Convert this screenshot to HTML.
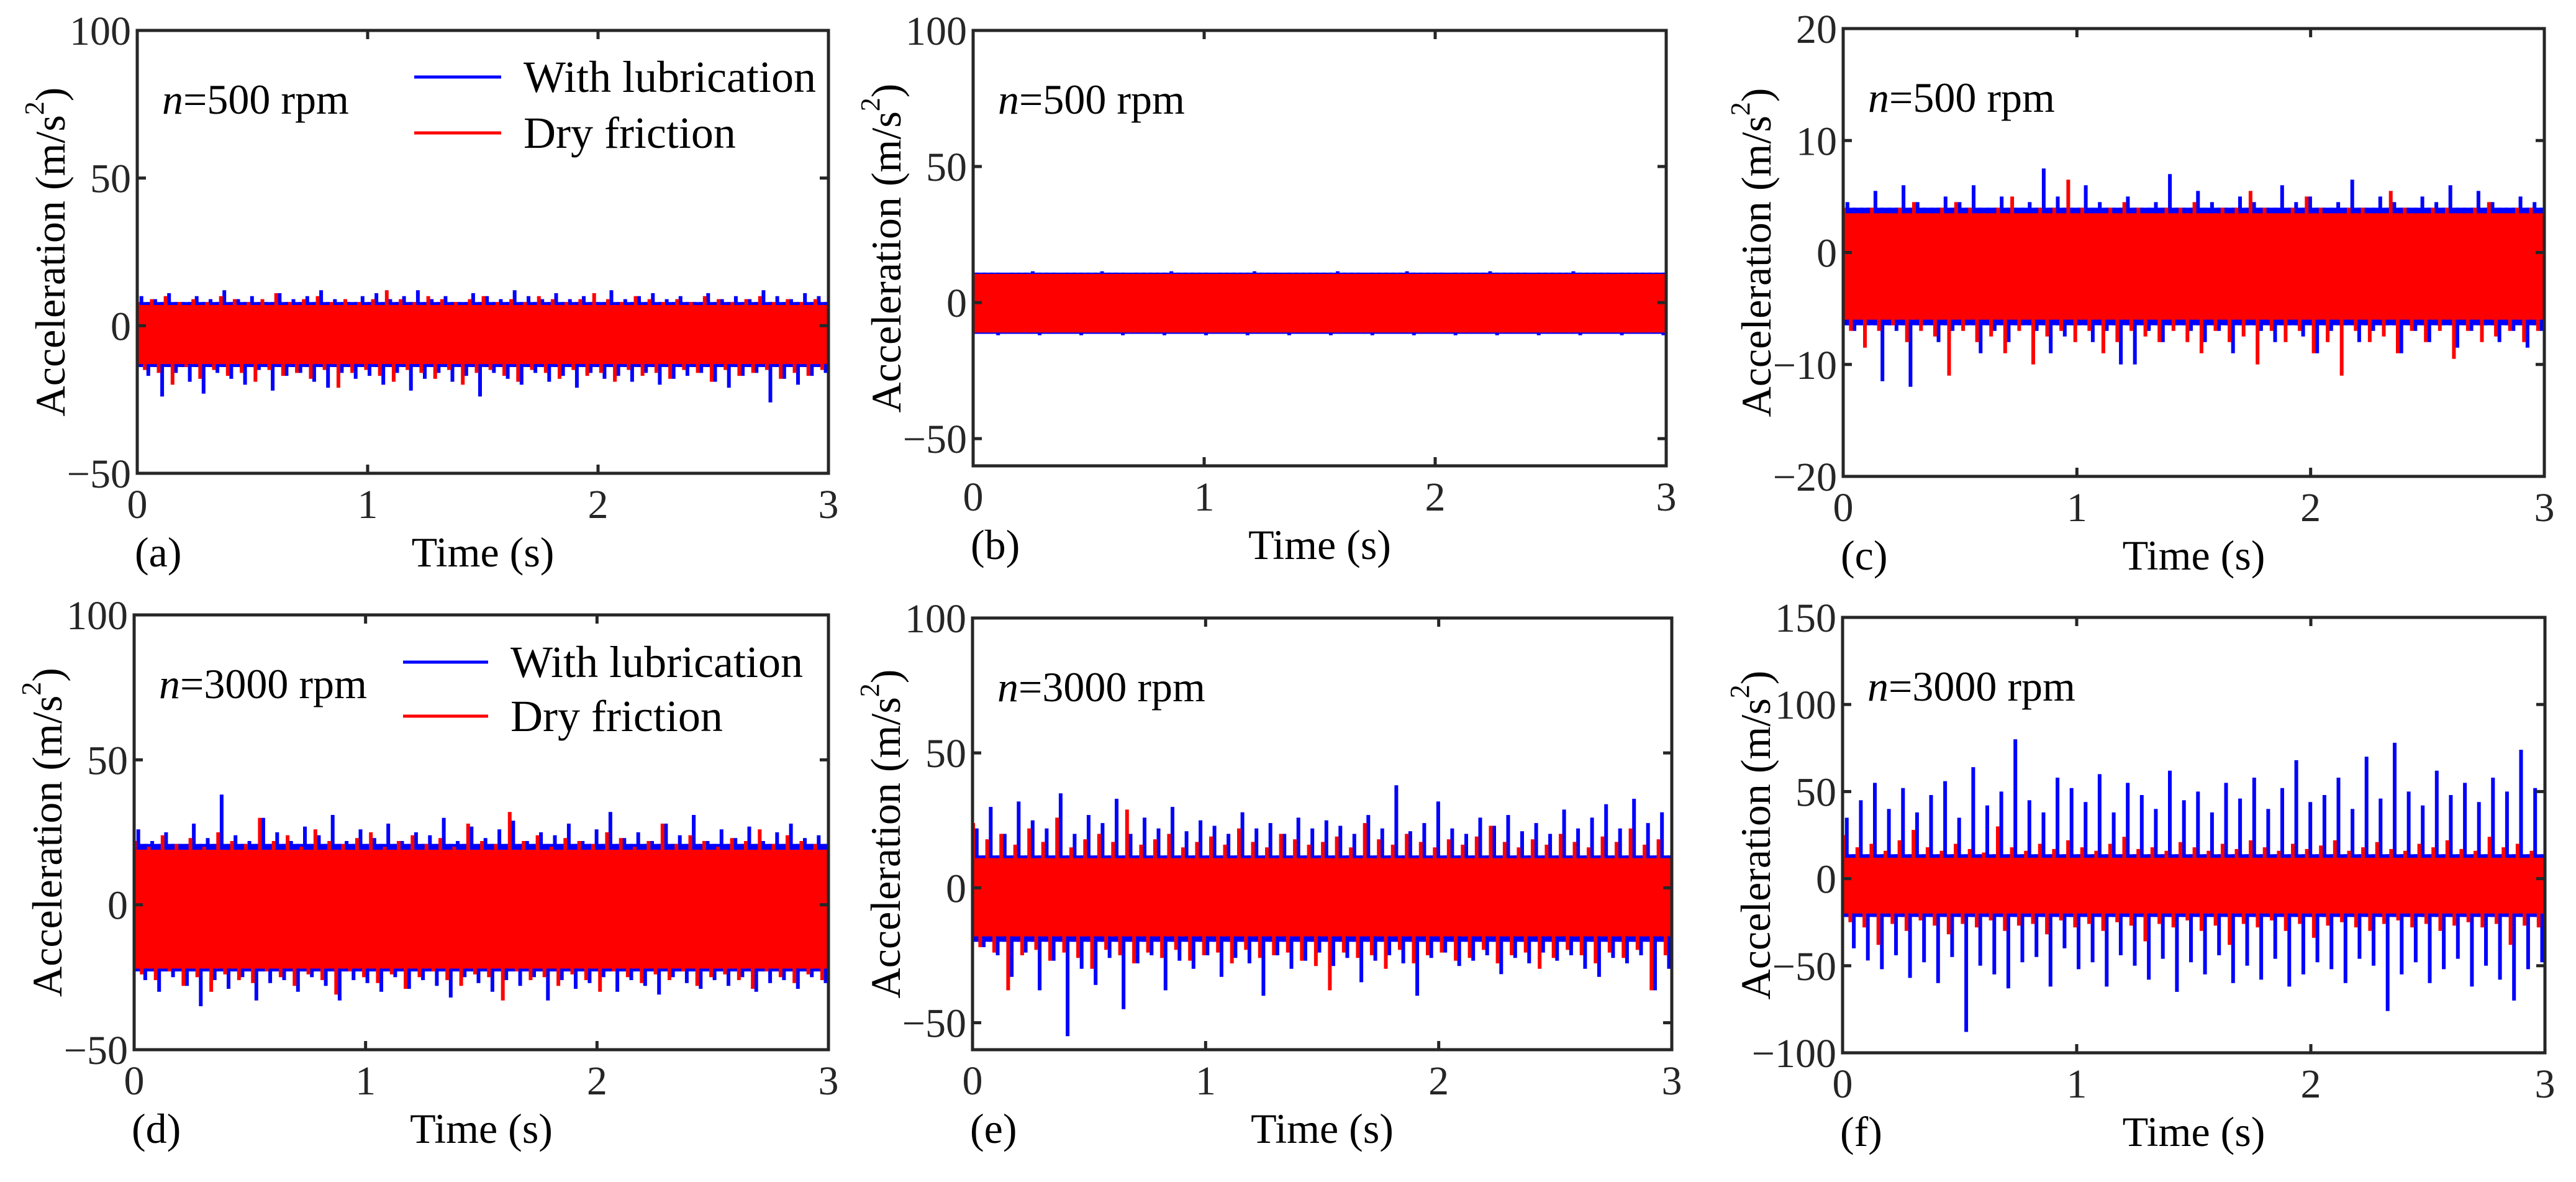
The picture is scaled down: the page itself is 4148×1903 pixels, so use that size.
<!DOCTYPE html>
<html><head><meta charset="utf-8"><style>
html,body{margin:0;padding:0;background:#fff;}
svg{display:block;font-family:"Liberation Serif",serif;}
</style></head><body>
<svg id="fig" width="4148" height="1903" viewBox="0 0 4148 1903" xmlns="http://www.w3.org/2000/svg"></svg>
<script>
// ---- shared tick data ----
const xTicks = [0, 1, 2, 3];
const yTicksA = [100, 50, 0, -50];
const yTicksB = [100, 50, 0, -50];
const yTicksC = [20, 10, 0, -10, -20];
const yTicksD = [100, 50, 0, -50];
const yTicksE = [100, 50, 0, -50];
const yTicksF = [150, 100, 50, 0, -50, -100];

// ---- panel (a) n=500 rpm ----
const aBlueHi = [10,9,11,8,10,9,12,9,10,8,11,9,10,12,9,8,10,11,9,10,12,9,10,8,11,10,9,12,10,9,11,9,10,8,12,9,10,11,9,10,8,11,9,10,9,12,10,9,11,10];
const aBlueLo = [-17,-24,-16,-19,-23,-16,-18,-20,-15,-22,-17,-16,-19,-21,-16,-18,-17,-20,-16,-22,-18,-16,-19,-17,-24,-16,-18,-20,-16,-19,-17,-21,-16,-18,-17,-19,-16,-20,-18,-17,-16,-19,-21,-17,-16,-26,-18,-20,-17,-16];
const aRedHi = [8,9,10,8,9,8,10,9,8,9,11,8,9,10,8,9,8,9,12,9,8,10,9,8,9,10,8,9,8,10,9,8,9,11,9,8,10,9,8,9,8,10,9,8,9,10,8,9,8,9];
const aRedLo = [-15,-16,-20,-14,-18,-15,-17,-16,-19,-15,-17,-16,-18,-15,-21,-16,-15,-17,-19,-15,-16,-18,-15,-20,-16,-15,-17,-19,-15,-16,-18,-15,-17,-16,-19,-15,-17,-16,-18,-15,-16,-19,-15,-17,-16,-15,-18,-16,-17,-15];
const aBlueCore = [-14, 8];
const aRedCore = [-13, 7];

// ---- panel (b) ----
const bBlueHi = [11,11,10.5,11,11.5,11,10.5,11,11,11.5,11,10.5,11,11,11.5,11,11,10.5,11,11,11.5,11,10.5,11,11,11,11.5,11,10.5,11,11,11.5,11,11,10.5,11,11,11.5,11,11,10.5,11,11,11.5,11,11,10.5,11,11,11];
const bBlueLo = [-11.5,-12,-11.5,-11,-12,-11.5,-11.5,-12,-11,-11.5,-12,-11.5,-11.5,-12,-11,-11.5,-12,-11.5,-11,-12,-11.5,-11.5,-12,-11,-11.5,-12,-11.5,-11,-12,-11.5,-11.5,-12,-11,-11.5,-12,-11.5,-11.5,-12,-11,-11.5,-12,-11.5,-11,-12,-11.5,-11.5,-12,-11,-11.5,-12];
const bRedHi = [10.5,10,10.5,10.5,10,10.5,10.5,10,10.5,10.5,10,10.5,10.5,10,10.5,10.5,10,10.5,10.5,10,10.5,10.5,10,10.5,10.5,10,10.5,10.5,10,10.5,10.5,10,10.5,10.5,10,10.5,10.5,10,10.5,10.5,10,10.5,10.5,10,10.5,10.5,10,10.5,10.5,10];
const bRedLo = [-11,-10.5,-11,-11,-10.5,-11,-11,-10.5,-11,-11,-10.5,-11,-11,-10.5,-11,-11,-10.5,-11,-11,-10.5,-11,-11,-10.5,-11,-11,-10.5,-11,-11,-10.5,-11,-11,-10.5,-11,-11,-10.5,-11,-11,-10.5,-11,-11,-10.5,-11,-11,-10.5,-11,-11,-10.5,-11,-11,-10.5];
const bBlueCore = [-11.5, 11];
const bRedCore = [-11, 10.5];

// ---- panel (c) ----
const cBlueHi = [4.5,4,5.5,4,6,4.5,4,5,4.5,6,4,5,4,4.5,7.5,5,4,6,4.5,4,5,4,4.5,7,4,5.5,4.5,4,5,4.5,4,6,4.5,5,4,4.5,6.5,4,5,4.5,4,5,4.5,6,4,5.5,4.5,4,5,4.5];
const cBlueLo = [-7,-6.5,-11.5,-7,-12,-6.5,-8,-7,-6.5,-9,-7,-8,-6.5,-7,-9,-7.5,-6.5,-8,-7,-10,-10,-7,-8,-6.5,-7,-8,-7,-9,-6.5,-7,-8,-6.5,-7.5,-9,-7,-6.5,-8,-7,-6.5,-9,-7,-8,-6.5,-8.5,-7,-6.5,-8,-7,-8.5,-7];
const cRedHi = [4,3.5,4,3.5,4,4.5,3.5,4,4.5,4,3.5,4,5,3.5,4,4,6.5,4,3.5,4,4.5,4,3.5,4,4,4.5,3.5,4,4,5.5,4,3.5,4,5,4,3.5,4,4,3.5,5.5,4,3.5,4,4,3.5,4,4.5,3.5,4,4];
const cRedLo = [-7,-8.5,-7,-6.5,-8,-7,-7.5,-11,-7,-8,-7.5,-9,-7,-10,-7.5,-7,-8,-7,-9,-8,-7,-7.5,-8,-7,-8,-9,-7,-8,-7.5,-10,-7,-8,-7,-9,-8,-11,-7,-8,-7.5,-9,-7,-8,-7,-9.5,-7,-8,-7.5,-7,-8,-7];
const cBlueCore = [-6.5, 4];
const cRedCore = [-6, 3.5];

// ---- panel (d) n=3000 rpm ----
const dBlueHi = [26,22,25,21,28,23,38,24,22,30,25,22,27,24,31,22,26,23,28,22,25,24,30,22,27,23,26,29,22,25,24,28,22,26,32,23,25,22,28,24,31,22,26,23,27,22,25,28,23,24];
const dBlueLo = [-26,-30,-25,-28,-35,-26,-29,-25,-33,-27,-26,-30,-25,-28,-33,-26,-27,-30,-25,-29,-26,-28,-32,-25,-27,-30,-26,-28,-25,-33,-26,-29,-27,-25,-30,-26,-28,-31,-25,-27,-29,-26,-28,-25,-30,-27,-26,-29,-25,-27];
const dRedHi = [22,20,24,21,23,20,25,22,21,30,22,24,20,26,22,21,23,25,20,22,24,21,23,20,28,22,21,32,22,24,20,23,22,21,25,23,20,22,28,21,24,22,20,23,22,26,21,24,22,21];
const dRedLo = [-24,-26,-23,-28,-25,-30,-24,-26,-27,-23,-25,-28,-24,-26,-31,-23,-25,-27,-24,-29,-25,-23,-26,-28,-24,-25,-33,-23,-26,-25,-28,-24,-26,-30,-23,-25,-27,-24,-26,-23,-28,-25,-24,-26,-29,-23,-25,-27,-24,-26];
const dBlueCore = [-23, 21];
const dRedCore = [-22, 19];

// ---- panel (e) ----
const eBlueHi = [22,30,20,32,25,22,35,20,27,24,33,20,26,22,30,21,25,23,20,28,22,24,20,26,22,25,23,20,27,22,38,21,24,32,22,20,26,23,27,21,24,20,29,22,26,31,22,33,24,28];
const eBlueLo = [-22,-25,-33,-24,-38,-27,-55,-30,-36,-26,-45,-28,-25,-38,-27,-30,-25,-33,-26,-28,-40,-25,-30,-27,-24,-29,-26,-35,-27,-25,-28,-40,-26,-24,-29,-27,-25,-32,-26,-28,-24,-27,-25,-30,-33,-26,-28,-25,-38,-30];
const eRedHi = [24,18,20,16,22,17,26,15,18,20,17,29,16,18,20,15,17,19,16,22,17,15,20,18,16,17,19,15,24,18,16,20,17,15,18,16,19,23,17,15,18,16,20,17,15,19,17,22,16,18];
const eRedLo = [-22,-24,-38,-25,-23,-27,-24,-26,-30,-23,-25,-28,-24,-26,-23,-27,-25,-24,-28,-23,-26,-25,-24,-27,-29,-38,-24,-26,-25,-30,-23,-28,-25,-24,-27,-26,-23,-28,-25,-24,-30,-26,-23,-25,-28,-24,-26,-23,-38,-25];
const eBlueCore = [-20, 12];
const eRedCore = [-18, 11];

// ---- panel (f) ----
const fBlueHi = [35,45,55,40,52,38,48,56,35,64,42,50,80,45,38,58,52,44,60,38,55,48,40,62,45,50,38,55,46,58,40,52,68,44,48,58,40,70,46,78,50,42,62,48,55,44,58,50,74,52];
const fBlueLo = [-40,-47,-52,-44,-57,-48,-60,-45,-88,-50,-55,-63,-48,-45,-62,-40,-52,-48,-62,-44,-50,-58,-46,-65,-48,-55,-44,-60,-50,-58,-46,-62,-55,-48,-52,-60,-46,-50,-76,-55,-48,-60,-52,-46,-62,-50,-58,-70,-52,-48];
const fRedHi = [25,18,20,16,22,28,18,16,20,17,15,30,18,16,20,17,22,18,16,20,24,17,18,16,21,18,16,20,17,22,18,16,20,17,19,22,16,18,21,17,16,20,18,22,17,16,24,18,20,16];
const fRedLo = [-25,-28,-38,-26,-30,-24,-27,-32,-26,-28,-24,-30,-27,-26,-32,-24,-28,-26,-30,-25,-27,-36,-26,-28,-24,-30,-27,-38,-26,-28,-24,-30,-26,-34,-27,-25,-28,-30,-26,-24,-28,-26,-30,-27,-25,-28,-26,-38,-27,-28];
const fBlueCore = [-22, 14];
const fRedCore = [-20, 12];

const NS = "http://www.w3.org/2000/svg";
const svg = document.getElementById("fig");
const BLUE = "#0000ff", RED = "#ff0000", INK = "#262626";

function mk(tag, attrs, parent) {
  const e = document.createElementNS(NS, tag);
  for (const k in attrs) e.setAttribute(k, attrs[k]);
  (parent || svg).appendChild(e);
  return e;
}
function fmt(v) { return v < 0 ? "\u2212" + Math.abs(v) : String(v); }

function drawSeries(g, sx, sy, hi, lo, core, color, name, offset) {
  const band = mk("rect", {x: sx(0), y: sy(core[1]), width: sx(3) - sx(0), height: sy(core[0]) - sy(core[1]), fill: color}, g);
  
  
  const n = hi.length;
  let d = "";
  for (let i = 0; i < n; i++) {
    const t1 = 3 * (i + offset) / n, t2 = 3 * (i + offset + 0.5) / n;
    const X1 = sx(t1).toFixed(1), X2 = sx(t2).toFixed(1);
    d += "M" + X1 + "," + sy(core[0]).toFixed(1) + "L" + X1 + "," + sy(hi[i]).toFixed(1);
    d += "M" + X2 + "," + sy(core[1]).toFixed(1) + "L" + X2 + "," + sy(lo[i]).toFixed(1);
  }
  const p = mk("path", {d: d, fill: "none", stroke: color, "stroke-width": 6}, g);
  
  
}

function panel(cfg) {
  const g = mk("g", {});
  
  
  const {x0, x1, y0, y1, ymin, ymax} = cfg;
  const sx = t => x0 + (t - 0) / 3 * (x1 - x0);
  const sy = v => y1 - (v - ymin) / (ymax - ymin) * (y1 - y0);
  const clipId = "clip-" + cfg.id;
  const cp = mk("clipPath", {id: clipId}, g);
  mk("rect", {x: x0, y: y0, width: x1 - x0, height: y1 - y0}, cp);
  const plot = mk("g", {"clip-path": "url(#" + clipId + ")"}, g);
  
  
  drawSeries(plot, sx, sy, cfg.bHi, cfg.bLo, cfg.bCore, BLUE, 'with-lubrication-' + cfg.id, 0.3);
  drawSeries(plot, sx, sy, cfg.rHi, cfg.rLo, cfg.rCore, RED, 'dry-friction-' + cfg.id, 0.05);
  const fr = mk("rect", {x: x0, y: y0, width: x1 - x0, height: y1 - y0, fill: "none", stroke: INK, "stroke-width": 5}, g);
  
  
  xTicks.forEach(t => {
    const X = sx(t);
    mk("line", {x1: X, y1: y1, x2: X, y2: y1 - 14, stroke: INK, "stroke-width": 5}, g);
    mk("line", {x1: X, y1: y0, x2: X, y2: y0 + 14, stroke: INK, "stroke-width": 5}, g);
    const tl = mk("text", {x: X, y: y1 + 72, "text-anchor": "middle", "font-size": 66, fill: INK}, g);
    tl.textContent = fmt(t);
    
    
  });
  cfg.yTicks.forEach(v => {
    const Y = sy(v);
    mk("line", {x1: x0, y1: Y, x2: x0 + 14, y2: Y, stroke: INK, "stroke-width": 5}, g);
    mk("line", {x1: x1, y1: Y, x2: x1 - 14, y2: Y, stroke: INK, "stroke-width": 5}, g);
    const tl = mk("text", {x: x0 - 10, y: Y + 23, "text-anchor": "end", "font-size": 66, fill: INK}, g);
    tl.textContent = fmt(v);
    
    
  });
  const cx = x0 - 140, cy = (y0 + y1) / 2;
  const yl = mk("text", {x: cx, y: cy, "text-anchor": "middle", "font-size": 68, fill: "#000", transform: "rotate(-90 " + cx + " " + cy + ")", "dominant-baseline": "central"}, g);
  
  
  yl.appendChild(document.createTextNode("Acceleration (m/s"));
  const sup = mk("tspan", {"font-size": 44, dy: -26}, yl);
  sup.textContent = "2";
  const close = mk("tspan", {dy: 26}, yl);
  close.textContent = ")";
  const xl = mk("text", {x: (x0 + x1) / 2, y: y1 + 150, "text-anchor": "middle", "font-size": 68, fill: "#000"}, g);
  xl.textContent = "Time (s)";
  
  
  const pl = mk("text", {x: x0 - 4, y: y1 + 150, "font-size": 68, fill: "#000"}, g);
  pl.textContent = "(" + cfg.id + ")";
  
  
  const sp = mk("text", {x: x0 + 40, y: y0 + 134, "font-size": 68, fill: "#000"}, g);
  
  
  const it = mk("tspan", {"font-style": "italic"}, sp);
  it.textContent = "n";
  const rest = mk("tspan", {}, sp);
  rest.textContent = "=" + cfg.speed + " rpm";
  if (cfg.legend) {
    const L = cfg.legend;
    const lg = mk("g", {}, g);
    
    
    [[BLUE, "With lubrication", L.y1], [RED, "Dry friction", L.y2]].forEach(([c, label, y]) => {
      const ln = mk("line", {x1: L.lx0, y1: y, x2: L.lx1, y2: y, stroke: c, "stroke-width": 5}, lg);
      
      
      const tx = mk("text", {x: L.tx, y: y + 24, "font-size": 72, fill: "#000"}, lg);
      tx.textContent = label;
      
      
    });
  }
}

panel({id: "a", x0: 221, x1: 1334, y0: 49, y1: 762, ymin: -50, ymax: 100, yTicks: yTicksA, speed: 500,
  bHi: aBlueHi, bLo: aBlueLo, bCore: aBlueCore, rHi: aRedHi, rLo: aRedLo, rCore: aRedCore,
  legend: {lx0: 667, lx1: 807, y1: 124, y2: 214, tx: 843}});
panel({id: "b", x0: 1567, x1: 2683, y0: 49, y1: 750, ymin: -60, ymax: 100, yTicks: yTicksB, speed: 500,
  bHi: bBlueHi, bLo: bBlueLo, bCore: bBlueCore, rHi: bRedHi, rLo: bRedLo, rCore: bRedCore});
panel({id: "c", x0: 2968, x1: 4097, y0: 46, y1: 767, ymin: -20, ymax: 20, yTicks: yTicksC, speed: 500,
  bHi: cBlueHi, bLo: cBlueLo, bCore: cBlueCore, rHi: cRedHi, rLo: cRedLo, rCore: cRedCore});
panel({id: "d", x0: 216, x1: 1334, y0: 990, y1: 1690, ymin: -50, ymax: 100, yTicks: yTicksD, speed: 3000,
  bHi: dBlueHi, bLo: dBlueLo, bCore: dBlueCore, rHi: dRedHi, rLo: dRedLo, rCore: dRedCore,
  legend: {lx0: 649, lx1: 786, y1: 1066, y2: 1153, tx: 822}});
panel({id: "e", x0: 1566, x1: 2692, y0: 995, y1: 1690, ymin: -60, ymax: 100, yTicks: yTicksE, speed: 3000,
  bHi: eBlueHi, bLo: eBlueLo, bCore: eBlueCore, rHi: eRedHi, rLo: eRedLo, rCore: eRedCore});
panel({id: "f", x0: 2967, x1: 4098, y0: 994, y1: 1695, ymin: -100, ymax: 150, yTicks: yTicksF, speed: 3000,
  bHi: fBlueHi, bLo: fBlueLo, bCore: fBlueCore, rHi: fRedHi, rLo: fRedLo, rCore: fRedCore});
</script>
</body></html>
